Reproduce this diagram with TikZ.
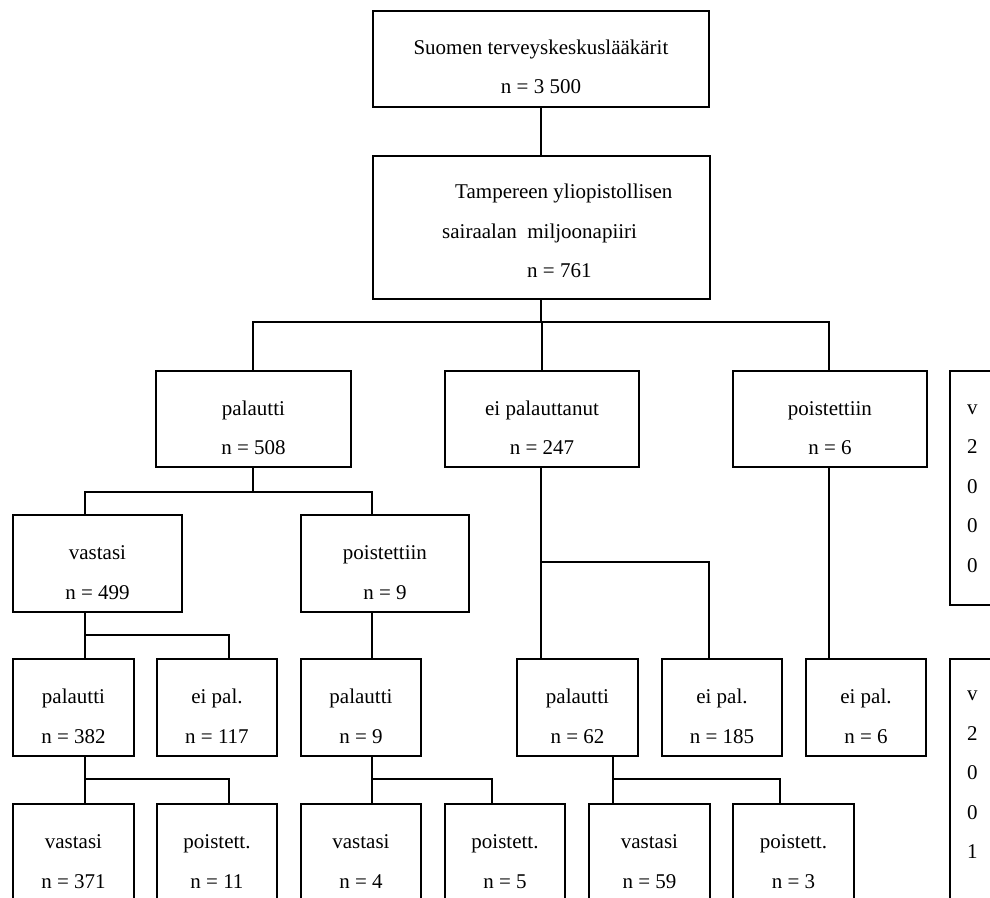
\documentclass[tikz,border=0pt]{standalone}
\usepackage{fontspec}
\setmainfont{Liberation Serif}
\usepackage{tikz}

\begin{document}
\begin{tikzpicture}[x=1pt,y=-1pt,
  box/.style={draw, line width=1.9pt, minimum width=#1, minimum height=96pt, anchor=north west, inner sep=0pt},
  txt/.style={align=center, inner sep=0pt, font=\fontsize{21}{39.5}\selectfont},
  lnk/.style={line width=1.9pt}]

\clip (0,0) rectangle (990,897);

% boxes
\node[box=336] (suo) at (372,10) {};
\node[box=337, minimum height=143pt] (tam) at (372,155) {};

\node[box=195] (pal) at (155,370) {};
\node[box=194] (eip) at (444,370) {};
\node[box=194] (poi) at (732,370) {};
\node[box=100, minimum height=234pt] (ra) at (949,370) {};

\node[box=169, minimum height=97pt] (vas) at (12,514) {};
\node[box=168, minimum height=97pt] (poi9) at (300,514) {};

\node[box=121, minimum height=97pt] (p382) at (12,658) {};
\node[box=120, minimum height=97pt] (e117) at (156,658) {};
\node[box=120, minimum height=97pt] (p9) at (300,658) {};
\node[box=121, minimum height=97pt] (p62) at (516,658) {};
\node[box=120, minimum height=97pt] (e185) at (661,658) {};
\node[box=120, minimum height=97pt] (e6) at (805,658) {};
\node[box=100, minimum height=300pt] (rb) at (949,658) {};

\node[box=121, minimum height=97pt] (v371) at (12,803) {};
\node[box=120, minimum height=97pt] (p11) at (156,803) {};
\node[box=120, minimum height=97pt] (v4) at (300,803) {};
\node[box=120, minimum height=97pt] (p5) at (444,803) {};
\node[box=121, minimum height=97pt] (v59) at (588,803) {};
\node[box=121, minimum height=97pt] (p3) at (732,803) {};

% texts
\node[txt] (suot) at ([yshift=-8pt]suo.center) {Suomen terveyskeskuslääkärit\\n = 3 500};
\node[txt, align=left, anchor=west] (tamt) at (442,231) {\hspace*{13pt}Tampereen yliopistollisen\\sairaalan\ \ miljoonapiiri\\\hspace*{85pt}n = 761};
\node[txt] (palt) at ([yshift=-9pt]pal.center) {palautti\\n = 508};
\node[txt] (eipt) at ([yshift=-9pt]eip.center) {ei palauttanut\\n = 247};
\node[txt] (poit) at ([yshift=-9pt]poi.center) {poistettiin\\n = 6};
\node[txt, align=left, anchor=west] (rat) at (967,488.5) {v\\2\\0\\0\\0};
\node[txt] (vast) at ([yshift=-9pt]vas.center) {vastasi\\n = 499};
\node[txt] (poi9t) at ([yshift=-9pt]poi9.center) {poistettiin\\n = 9};
\node[txt] (p382t) at ([yshift=-9pt]p382.center) {palautti\\n = 382};
\node[txt] (e117t) at ([yshift=-9pt]e117.center) {ei pal.\\n = 117};
\node[txt] (p9t) at ([yshift=-9pt]p9.center) {palautti\\n = 9};
\node[txt] (p62t) at ([yshift=-9pt]p62.center) {palautti\\n = 62};
\node[txt] (e185t) at ([yshift=-9pt]e185.center) {ei pal.\\n = 185};
\node[txt] (e6t) at ([yshift=-9pt]e6.center) {ei pal.\\n = 6};
\node[txt, align=left, anchor=west] (rbt) at (967,775) {v\\2\\0\\0\\1};
\node[txt] (v371t) at ([yshift=-9pt]v371.center) {vastasi\\n = 371};
\node[txt] (p11t) at ([yshift=-9pt]p11.center) {poistett.\\n = 11};
\node[txt] (v4t) at ([yshift=-9pt]v4.center) {vastasi\\n = 4};
\node[txt] (p5t) at ([yshift=-9pt]p5.center) {poistett.\\n = 5};
\node[txt] (v59t) at ([yshift=-9pt]v59.center) {vastasi\\n = 59};
\node[txt] (p3t) at ([yshift=-9pt]p3.center) {poistett.\\n = 3};

% junctions
\coordinate (j0l) at (253,322); \coordinate (j0r) at (829,322);
\coordinate (j1l) at (85,492);  \coordinate (j1r) at (372,492);
\coordinate (j2l) at (85,635);  \coordinate (j2r) at (229,635);
\coordinate (j3l) at (85,779);  \coordinate (j3r) at (229,779);
\coordinate (j4l) at (372,779); \coordinate (j4r) at (492,779);
\coordinate (j5l) at (541,562); \coordinate (j5r) at (709,562);
\coordinate (j6l) at (613,779); \coordinate (j6r) at (780,779);

% connectors
\draw[lnk] (j5l |- suo.south) -- (j5l |- tam.north);
\draw[lnk] (j5l |- tam.south) -- (j5l |- j0l);
\draw[lnk] (j0l |- pal.north) -- (j0l) -- (j0r) -- (j0r |- poi.north);
\draw[lnk] (eip.north) -- (eip.north |- j0l);

\draw[lnk] (j0l |- pal.south) -- (j0l |- j1l);
\draw[lnk] (j1l |- vas.north) -- (j1l) -- (j1r) -- (j1r |- poi9.north);

\draw[lnk] (j2l |- vas.south) -- (j2l |- p382.north);
\draw[lnk] (j2l) -- (j2r) -- (j2r |- e117.north);
\draw[lnk] (j1r |- poi9.south) -- (j1r |- p9.north);

\draw[lnk] (j3l |- p382.south) -- (j3l |- v371.north);
\draw[lnk] (j3l) -- (j3r) -- (j3r |- p11.north);
\draw[lnk] (j4l |- p9.south) -- (j4l |- v4.north);
\draw[lnk] (j4l) -- (j4r) -- (j4r |- p5.north);

\draw[lnk] (j5l |- eip.south) -- (j5l |- p62.north);
\draw[lnk] (j5l) -- (j5r) -- (j5r |- e185.north);
\draw[lnk] (j0r |- poi.south) -- (j0r |- e6.north);
\draw[lnk] (j6l |- p62.south) -- (j6l |- v59.north);
\draw[lnk] (j6l) -- (j6r) -- (j6r |- p3.north);

\end{tikzpicture}
\end{document}
